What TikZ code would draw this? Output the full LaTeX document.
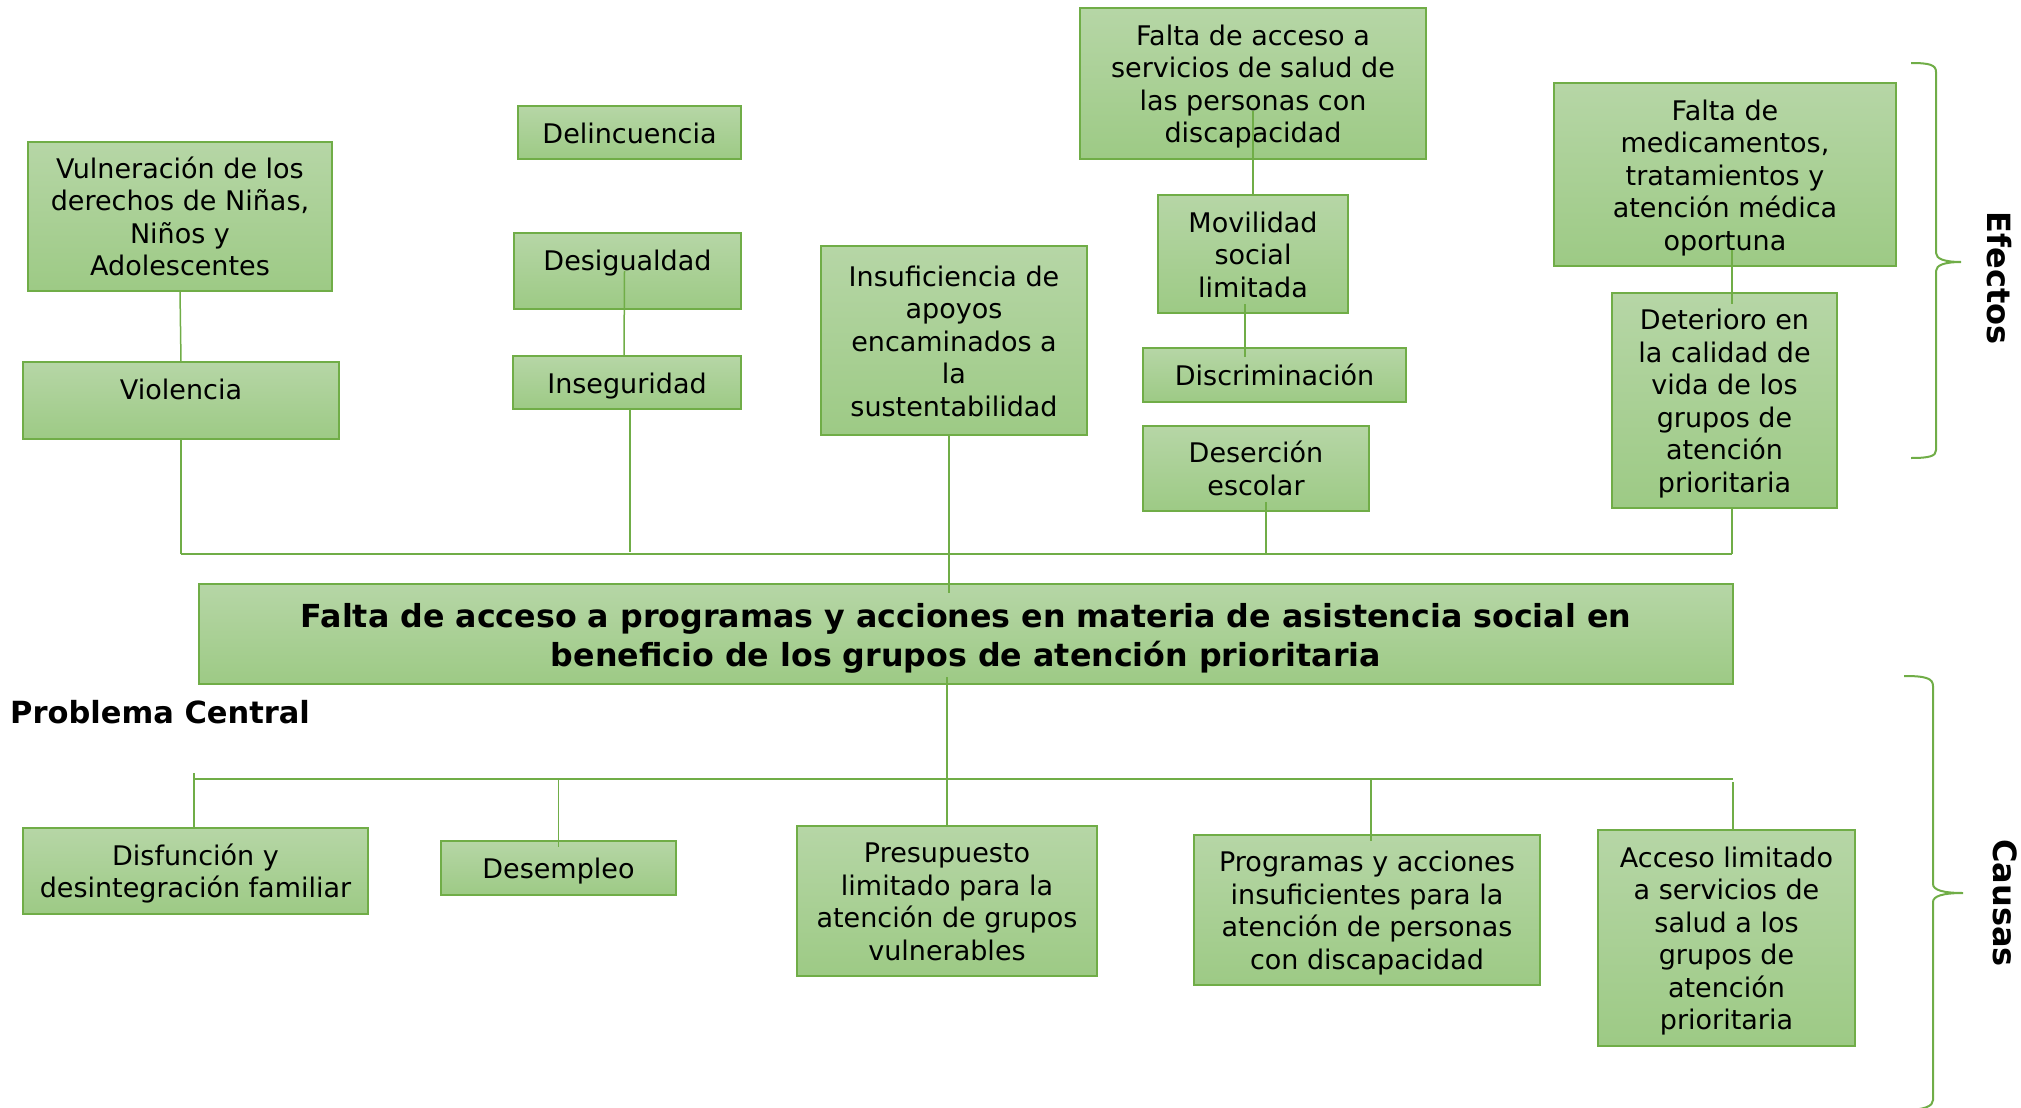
\documentclass[tikz,border=0pt]{standalone}
\usepackage{fontspec}
\setmainfont{DejaVu Sans}
\definecolor{gb}{RGB}{112,173,71}
\definecolor{gtop}{RGB}{182,214,166}
\definecolor{gbot}{RGB}{157,202,133}
\newcommand\bx[2][-4.2pt]{\raisebox{#1}[\height][\depth]{\begin{tabular}{@{}c@{}}#2\end{tabular}}}
\tikzset{
  box/.style={draw=gb, line width=2pt, top color=gtop, bottom color=gbot,
    inner sep=0pt, outer sep=0pt, align=center, text=black,
    font=\fontsize{27}{32.5}\selectfont},
  conn/.style={draw=gb, line width=1.5pt},
  brace/.style={draw=gb, line width=2pt},
  lbl/.style={inner sep=0pt, text=black, font=\bfseries\fontsize{32}{38}\selectfont},
}
\begin{document}
\begin{tikzpicture}[x=1pt,y=-1pt]
\useasboundingbox (0,0) rectangle (2021,1108);
% effects
\node[box, minimum width=304pt, minimum height=149pt] (vuln) at (180,216.5) {\bx{Vulneración de los\\derechos de Niñas,\\Niños y\\Adolescentes}};
\node[box, minimum width=223pt, minimum height=53pt] (delin) at (629.5,132.5) {\bx{Delincuencia}};
\node[box, minimum width=227pt, minimum height=76pt] (desig) at (627.5,271) {\bx[7pt]{Desigualdad}};
\node[box, minimum width=228pt, minimum height=53pt] (inseg) at (627,382.5) {\bx{Inseguridad}};
\node[box, minimum width=316pt, minimum height=77pt] (viol) at (181,400.5) {\bx[8pt]{Violencia}};
\node[box, minimum width=266pt, minimum height=189pt] (insuf) at (954,340.5) {\bx{Insuficiencia de\\apoyos\\encaminados a\\la\\sustentabilidad}};
\node[box, minimum width=346pt, minimum height=151pt] (serv) at (1253,83.5) {\bx{Falta de acceso a\\servicios de salud de\\las personas con\\discapacidad}};
\node[box, minimum width=190pt, minimum height=118pt] (movil) at (1253,254) {\bx{Movilidad\\social\\limitada}};
\node[box, minimum width=263pt, minimum height=54pt] (discr) at (1274.5,375) {\bx{Discriminación}};
\node[box, minimum width=226pt, minimum height=85pt] (deser) at (1256,468.5) {\bx{Deserción\\escolar}};
\node[box, minimum width=342pt, minimum height=183pt] (medic) at (1725,174.5) {\bx{Falta de\\medicamentos,\\tratamientos y\\atención médica\\oportuna}};
\node[box, minimum width=225pt, minimum height=215pt] (deter) at (1724.5,400.5) {\bx{Deterioro en\\la calidad de\\vida de los\\grupos de\\atención\\prioritaria}};
% central problem
\node[box, minimum width=1534pt, minimum height=100pt, font=\bfseries\fontsize{31.7}{39}\selectfont] (central) at (966,634) {\bx[-5pt]{Falta de acceso a programas y acciones en materia de asistencia social en\\beneficio de los grupos de atención prioritaria}};
% causes
\node[box, minimum width=345pt, minimum height=86pt] (disf) at (195.5,871) {\bx{Disfunción y\\desintegración familiar}};
\node[box, minimum width=235pt, minimum height=54pt] (desem) at (558.5,868) {\bx{Desempleo}};
\node[box, minimum width=300pt, minimum height=150pt] (presu) at (947,901) {\bx{Presupuesto\\limitado para la\\atención de grupos\\vulnerables}};
\node[box, minimum width=346pt, minimum height=150pt] (progr) at (1367,910) {\bx{Programas y acciones\\insuficientes para la\\atención de personas\\con discapacidad}};
\node[box, minimum width=257pt, minimum height=216pt] (acces) at (1726.5,938) {\bx{Acceso limitado\\a servicios de\\salud a los\\grupos de\\atención\\prioritaria}};
% labels
\node[lbl, anchor=base west, font=\bfseries\fontsize{30.5}{36}\selectfont] (probl) at (10,723) {Problema Central};
\node[lbl, rotate=-90] (efectos) at (1999,278) {Efectos};
\node[lbl, rotate=-90] (causas) at (2005,903) {Causas};
% connectors (effects)
\coordinate (etl) at (181,554);
\coordinate (etr) at (1732,554);
\draw[conn] (vuln.south) -- (viol.north);
\draw[conn] (viol.south) -- (viol.south |- etl);
\draw[conn] (etl) -- (etr);
\draw[conn] ([xshift=-3pt]desig.center) -- ([xshift=-3pt]inseg.north);
\draw[conn] ([xshift=3pt]inseg.south) -- ([xshift=3pt,yshift=2pt]inseg.south |- etl);
\draw[conn] ([xshift=-5pt]insuf.south) -- ([xshift=-5pt,yshift=-9pt]insuf.south |- central.north);
\draw[conn] ([yshift=-27pt]serv.center) -- (movil.north);
\draw[conn] ([xshift=-8pt,yshift=9pt]movil.south) -- ([xshift=-8pt,yshift=-9pt]movil.south |- discr.north);
\draw[conn] ([xshift=10pt,yshift=9pt]deser.south) -- ([xshift=10pt]deser.south |- etl);
\draw[conn] ([xshift=7pt,yshift=16pt]medic.south) -- ([xshift=7pt,yshift=-11pt]medic.south |- deter.north);
\draw[conn] ([xshift=7.5pt]deter.south) -- (etr);
% connectors (causes)
\coordinate (cbl) at (194,779);
\coordinate (cbr) at (1733,779);
\draw[conn] ([yshift=7pt]presu.north |- central.south) -- (presu.north);
\draw[conn] (cbl) -- (cbr);
\draw[conn] ([yshift=6pt]cbl) -- (cbl |- disf.north);
\draw[conn] (desem.north |- cbl) -- ([yshift=-6pt]desem.north);
\draw[conn] ([xshift=4pt]progr.north |- cbl) -- ([xshift=4pt,yshift=-6pt]progr.north);
\draw[conn] ([xshift=6.5pt,yshift=-3pt]acces.north |- cbr) -- ([xshift=6.5pt]acces.north);
% braces
\draw[brace] (1911,63) .. controls (1930,63) and (1936,65) .. (1936,72) -- (1936,253)
  .. controls (1936,259) and (1945,262) .. (1961,262)
  .. controls (1945,262) and (1936,265) .. (1936,271) -- (1936,450)
  .. controls (1936,456) and (1930,458) .. (1911,458);
\draw[brace] (1904,676) .. controls (1925,676) and (1933,678) .. (1933,686) -- (1933,884)
  .. controls (1933,890) and (1943,893) .. (1963,893)
  .. controls (1943,893) and (1933,896) .. (1933,902) -- (1933,1100)
  .. controls (1933,1106) and (1925,1110) .. (1904,1110);
\end{tikzpicture}
\end{document}
